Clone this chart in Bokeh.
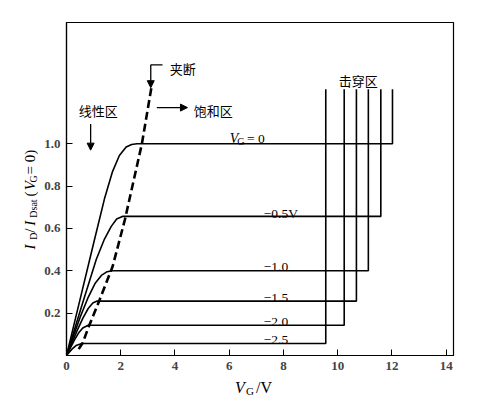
from math import pi

from bokeh.embed import file_html
from bokeh.layouts import column, row
from bokeh.models import (Arrow, FixedTicker, Label, NormalHead,
                          PrintfTickFormatter, Range1d)
from bokeh.plotting import figure
from bokeh.resources import INLINE


# rising part of each curve (x in V, y = I_D / I_Dsat)
CURVE_X_0 = [0, 0.5, 1.0, 1.4, 1.7, 1.95, 2.2, 2.4, 2.6]
CURVE_Y_0 = [0, 0.265, 0.53, 0.74, 0.87, 0.945, 0.985, 0.997, 1.0]
CURVE_X_05 = [0, 0.6, 1.1, 1.4, 1.65, 1.85, 2.06]
CURVE_Y_05 = [0, 0.25, 0.455, 0.55, 0.61, 0.645, 0.657]
CURVE_X_10 = [0, 0.5, 0.8, 1.05, 1.3, 1.5, 1.69]
CURVE_Y_10 = [0, 0.18, 0.275, 0.34, 0.38, 0.396, 0.4]
CURVE_X_15 = [0, 0.4, 0.6, 0.8, 0.97, 1.13]
CURVE_Y_15 = [0, 0.12, 0.175, 0.222, 0.248, 0.257]
CURVE_X_20 = [0, 0.3, 0.45, 0.6, 0.8]
CURVE_Y_20 = [0, 0.075, 0.107, 0.13, 0.143]
CURVE_X_25 = [0, 0.2, 0.35, 0.57]
CURVE_Y_25 = [0, 0.03, 0.047, 0.057]

# breakdown voltage of each curve and top of the vertical lines
BREAKDOWN_X = [12.02, 11.59, 11.13, 10.69, 10.24, 9.56]
BREAKDOWN_TOP = 1.258

# pinch-off locus (dashed)
PINCH_X = [0.45, 0.6, 0.8, 1.15, 1.7, 2.15, 2.78, 3.13]
PINCH_Y = [0.03, 0.06, 0.13, 0.24, 0.42, 0.64, 1.0, 1.265]

GATE_LABELS = ["0", "−0.5V", "−1.0", "−1.5", "−2.0", "−2.5"]

X_TICKS = [0, 2, 4, 6, 8, 10, 12, 14]
Y_TICKS = [0.2, 0.4, 0.6, 0.8, 1.0]

SERIF = "Liberation Serif"
CJK = "Noto Sans CJK SC"

# page layout (px)
LEFT_W = 38
TOP_H = 377
FULL_W = 471
BOTTOM_H = 21


def add_text(p, x, y, text, size="13px", style="normal", font=SERIF,
             angle=0.0, baseline="alphabetic"):
    p.add_layout(Label(
        x=x, y=y, text=text, text_font=font, text_font_size=size,
        text_font_style=style, text_color="black", angle=angle,
        text_align="left", text_baseline=baseline,
    ))


def add_arrow(p, x0, y0, x1, y1):
    head = NormalHead(size=7, fill_color="black", line_color="black")
    p.add_layout(Arrow(end=head, x_start=x0, y_start=y0, x_end=x1, y_end=y1,
                       line_color="black", line_width=1.3))


def blank_figure(width, height):
    p = figure(width=width, height=height, x_range=Range1d(0, width),
               y_range=Range1d(0, height), x_axis_type=None, y_axis_type=None,
               output_backend="svg", toolbar_location=None, min_border=0)
    p.grid.visible = False
    p.outline_line_color = None
    return p


def build_chart():
    p = figure(
        frame_width=387, frame_height=333,
        x_range=Range1d(0, 14.27), y_range=Range1d(0, 1.573),
        output_backend="svg", toolbar_location=None,
        min_border_left=66 - LEFT_W, min_border_right=18,
        min_border_top=22, min_border_bottom=22,
    )
    p.grid.visible = False
    p.outline_line_color = "black"
    p.outline_line_width = 1.2

    for ax in (p.xaxis, p.yaxis):
        ax.axis_line_width = 1.2
        ax.major_tick_in = 6
        ax.major_tick_out = 0
        ax.minor_tick_line_color = None
        ax.major_label_text_font = SERIF
        ax.major_label_text_font_style = "bold"
        ax.major_label_text_font_size = "13px"
    p.xaxis.ticker = FixedTicker(ticks=X_TICKS)
    p.yaxis.ticker = FixedTicker(ticks=Y_TICKS)
    p.yaxis.formatter = PrintfTickFormatter(format="%.1f")
    p.xaxis.major_label_standoff = 6
    p.yaxis.major_label_standoff = 6

    rises = [
        (CURVE_X_0, CURVE_Y_0), (CURVE_X_05, CURVE_Y_05),
        (CURVE_X_10, CURVE_Y_10), (CURVE_X_15, CURVE_Y_15),
        (CURVE_X_20, CURVE_Y_20), (CURVE_X_25, CURVE_Y_25),
    ]
    for (xs, ys), bx in zip(rises, BREAKDOWN_X):
        sat = ys[-1]
        p.line(xs + [bx, bx], ys + [sat, BREAKDOWN_TOP],
               line_color="black", line_width=1.6)

    p.line(PINCH_X, PINCH_Y, line_color="black", line_width=2.6,
           line_dash="8 4")

    # gate voltage labels
    sat0 = CURVE_Y_0[-1]
    add_text(p, 6.02, sat0 + 0.026, "V", size="14px", style="italic")
    add_text(p, 6.3, sat0 + 0.012, "G", size="10px")
    add_text(p, 6.66, sat0 + 0.026, "= " + GATE_LABELS[0], size="13.5px")
    for (xs, ys), label in zip(rises[1:], GATE_LABELS[1:]):
        add_text(p, 7.27, ys[-1] + 0.016, label, size="13.5px")

    # region labels and arrows
    add_text(p, 0.45, 1.155, "线性区", font=CJK, baseline="middle")
    add_arrow(p, 0.89, 1.094, 0.89, 0.97)
    add_text(p, 4.69, 1.155, "饱和区", font=CJK, baseline="middle")
    add_arrow(p, 3.33, 1.171, 4.46, 1.171)
    add_text(p, 3.81, 1.358, "夹断", font=CJK, baseline="middle")
    p.segment(x0=[3.107], y0=[1.373], x1=[3.54], y1=[1.373],
              line_color="black", line_width=1.3)
    add_arrow(p, 3.107, 1.373, 3.107, 1.265)
    add_text(p, 10.04, 1.30, "击穿区", font=CJK, baseline="middle")

    # y axis label: I_D / I_Dsat (V_G = 0), rotated; page px coordinates
    ylab = blank_figure(LEFT_W, TOP_H)
    xm, xs_ = 29, 32.5
    for y, text, size, style, x in [
        (257, "I", "15px", "italic", xm),
        (246, "D", "10px", "normal", xs_),
        (238, "/", "15px", "normal", xm),
        (230, "I", "15px", "italic", xm),
        (221, "Dsat", "10px", "normal", xs_),
        (197, "(", "15px", "normal", xm),
        (190, "V", "15px", "italic", xm),
        (181, "G", "10px", "normal", xs_),
        (172, "= 0)", "15px", "normal", xm),
    ]:
        add_text(ylab, x, TOP_H - y, text, size=size, style=style,
                 angle=pi / 2)

    # x axis label: V_G / V; page px coordinates
    xlab = blank_figure(FULL_W, BOTTOM_H)
    top = TOP_H + BOTTOM_H
    add_text(xlab, 234.5, top - 387.3, "V", size="16px", style="italic")
    add_text(xlab, 245.5, top - 390.7, "G", size="11px")
    add_text(xlab, 255.5, top - 387.3, "/V", size="16px")

    return column(row(ylab, p), xlab)


def main():
    layout = build_chart()
    with open("out.html", "w") as f:
        f.write(file_html(layout, INLINE))


if __name__ == "__main__":
    main()
